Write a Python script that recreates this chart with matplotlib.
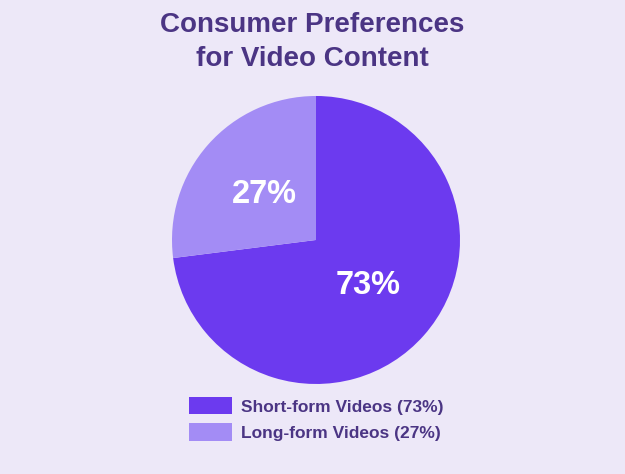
import matplotlib.pyplot as plt
from matplotlib.patches import Patch

# data
labels = ['Short-form Videos (73%)', 'Long-form Videos (27%)']
shares = [73, 27]
colors = ['#6c3aef', '#a38cf5']

bg = '#ede8f8'
title_col = '#4b3584'

plt.rcParams['font.family'] = ['Liberation Sans', 'DejaVu Sans']

fig = plt.figure(figsize=(6.25, 4.74), dpi=100, facecolor=bg)

# pie axes placed so the circle sits where the reference has it
ax = fig.add_axes([0.5056 - 0.2304, 0.4937 - 0.3038, 0.4608, 0.6076])
ax.set_facecolor(bg)
wedges, texts, autotexts = ax.pie(shares, colors=colors, startangle=90, counterclock=False,
                                  autopct='%d%%', pctdistance=0.48,
                                  textprops={'color': 'white', 'fontsize': 23.5, 'fontweight': 'bold'})
ax.set_xlim(-1, 1)
ax.set_ylim(-1, 1)
ax.set_aspect('equal')
ax.axis('off')

fig.text(0.5, 0.975, 'Consumer Preferences\nfor Video Content', ha='center', va='top',
         fontsize=20, fontweight='bold', color=title_col, linespacing=1.4)

handles = [Patch(facecolor=c, edgecolor='none') for c in colors]
leg = fig.legend(handles, labels, loc='upper center', bbox_to_anchor=(0.506, 0.195),
                 frameon=False, fontsize=12.5, handlelength=2.5, handleheight=1.15,
                 labelspacing=0.5, handletextpad=0.5)
for t in leg.get_texts():
    t.set_color(title_col)
    t.set_fontweight('bold')

fig.savefig('out.png', dpi=100, facecolor=bg)
